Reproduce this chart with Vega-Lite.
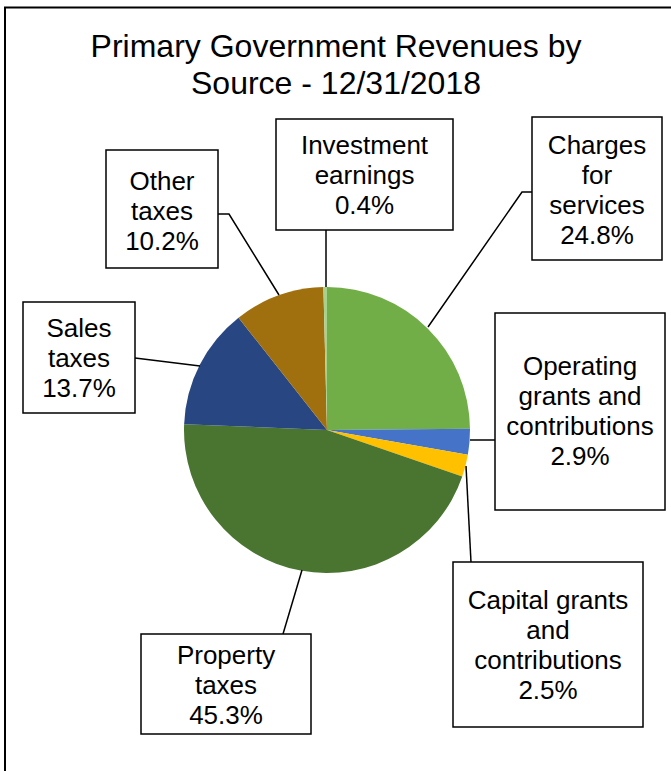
{
  "$schema": "https://vega.github.io/schema/vega-lite/v6.json",
  "width": 671,
  "height": 771,
  "padding": 0,
  "autosize": {"type": "none"},
  "background": "white",
  "config": {"view": {"stroke": null}, "font": "Liberation Sans"},
  "datasets": {
    "slices": [
      {"source": "Charges for services", "pct": 24.8, "order": 1},
      {"source": "Operating grants and contributions", "pct": 2.9, "order": 2},
      {"source": "Capital grants and contributions", "pct": 2.5, "order": 3},
      {"source": "Property taxes", "pct": 45.3, "order": 4},
      {"source": "Sales taxes", "pct": 13.7, "order": 5},
      {"source": "Other taxes", "pct": 10.2, "order": 6},
      {"source": "Investment earnings", "pct": 0.4, "order": 7}
    ],
    "boxes": [
      {"source": "Investment earnings", "label": "Investment\nearnings\n0.4%", "x1": 276, "x2": 453, "y1": 119, "y2": 230, "cx": 364.5, "cy": 146},
      {"source": "Charges for services", "label": "Charges\nfor\nservices\n24.8%", "x1": 532, "x2": 662, "y1": 117, "y2": 260, "cx": 597, "cy": 146},
      {"source": "Other taxes", "label": "Other\ntaxes\n10.2%", "x1": 106, "x2": 218, "y1": 150, "y2": 268, "cx": 162, "cy": 182},
      {"source": "Sales taxes", "label": "Sales\ntaxes\n13.7%", "x1": 23, "x2": 135, "y1": 302, "y2": 413, "cx": 79, "cy": 329},
      {"source": "Operating grants and contributions", "label": "Operating\ngrants and\ncontributions\n2.9%", "x1": 495, "x2": 665, "y1": 313, "y2": 510, "cx": 580, "cy": 367},
      {"source": "Capital grants and contributions", "label": "Capital grants\nand\ncontributions\n2.5%", "x1": 453, "x2": 643, "y1": 562, "y2": 727, "cx": 548, "cy": 601},
      {"source": "Property taxes", "label": "Property\ntaxes\n45.3%", "x1": 141, "x2": 311, "y1": 634, "y2": 734, "cx": 226, "cy": 656}
    ],
    "leaders": [
      {"id": "inv", "seq": 1, "x": 326, "y": 230},
      {"id": "inv", "seq": 2, "x": 326, "y": 287},
      {"id": "chg", "seq": 1, "x": 532, "y": 192},
      {"id": "chg", "seq": 2, "x": 522, "y": 192},
      {"id": "chg", "seq": 3, "x": 428, "y": 327},
      {"id": "oth", "seq": 1, "x": 218, "y": 214},
      {"id": "oth", "seq": 2, "x": 229, "y": 214},
      {"id": "oth", "seq": 3, "x": 279, "y": 295},
      {"id": "sal", "seq": 1, "x": 135, "y": 358},
      {"id": "sal", "seq": 2, "x": 200, "y": 366},
      {"id": "opg", "seq": 1, "x": 495, "y": 440},
      {"id": "opg", "seq": 2, "x": 470, "y": 440},
      {"id": "cap", "seq": 1, "x": 471, "y": 562},
      {"id": "cap", "seq": 2, "x": 466, "y": 466},
      {"id": "pro", "seq": 1, "x": 283, "y": 634},
      {"id": "pro", "seq": 2, "x": 302, "y": 570}
    ],
    "titles": [
      {"text": "Primary Government Revenues by\nSource - 12/31/2018", "x": 336, "y": 57}
    ],
    "frame": [
      {"x1": 5, "x2": 700, "y1": 7.5, "y2": 800}
    ]
  },
  "layer": [
    {
      "data": {"name": "frame"},
      "mark": {"type": "rect", "fill": null, "stroke": "black", "strokeWidth": 2},
      "encoding": {
        "x": {"field": "x1", "type": "quantitative", "scale": {"domain": [0, 671], "nice": false, "zero": false}, "axis": null},
        "x2": {"field": "x2"},
        "y": {"field": "y1", "type": "quantitative", "scale": {"domain": [0, 771], "nice": false, "zero": false, "reverse": true}, "axis": null},
        "y2": {"field": "y2"}
      }
    },
    {
      "data": {"name": "titles"},
      "mark": {"type": "text", "fontSize": 32, "lineHeight": 37, "align": "center", "baseline": "alphabetic", "color": "black", "lineBreak": "\n"},
      "encoding": {
        "x": {"field": "x", "type": "quantitative"},
        "y": {"field": "y", "type": "quantitative"},
        "text": {"field": "text"}
      }
    },
    {
      "data": {"name": "slices"},
      "mark": {"type": "arc", "radius": 143, "stroke": null},
      "encoding": {
        "theta": {"field": "pct", "type": "quantitative", "stack": true},
        "order": {"field": "order", "type": "quantitative"},
        "color": {
          "field": "source", "type": "nominal", "legend": null,
          "scale": {
            "domain": ["Charges for services", "Operating grants and contributions", "Capital grants and contributions", "Property taxes", "Sales taxes", "Other taxes", "Investment earnings"],
            "range": ["#72AE48", "#4573C8", "#FFC000", "#4A7530", "#274682", "#A0700F", "#A9D18E"]
          }
        },
        "x": {"datum": 327, "type": "quantitative"},
        "y": {"datum": 430, "type": "quantitative"}
      }
    },
    {
      "data": {"name": "leaders"},
      "mark": {"type": "line", "color": "black", "strokeWidth": 1.5},
      "encoding": {
        "x": {"field": "x", "type": "quantitative"},
        "y": {"field": "y", "type": "quantitative"},
        "detail": {"field": "id"},
        "order": {"field": "seq", "type": "quantitative"}
      }
    },
    {
      "data": {"name": "boxes"},
      "mark": {"type": "rect", "fill": "white", "stroke": "black", "strokeWidth": 1.5},
      "encoding": {
        "x": {"field": "x1", "type": "quantitative"},
        "x2": {"field": "x2"},
        "y": {"field": "y1", "type": "quantitative"},
        "y2": {"field": "y2"}
      }
    },
    {
      "data": {"name": "boxes"},
      "mark": {"type": "text", "fontSize": 26, "lineHeight": 30, "align": "center", "baseline": "middle", "color": "black", "lineBreak": "\n"},
      "encoding": {
        "x": {"field": "cx", "type": "quantitative"},
        "y": {"field": "cy", "type": "quantitative"},
        "text": {"field": "label"}
      }
    }
  ]
}
